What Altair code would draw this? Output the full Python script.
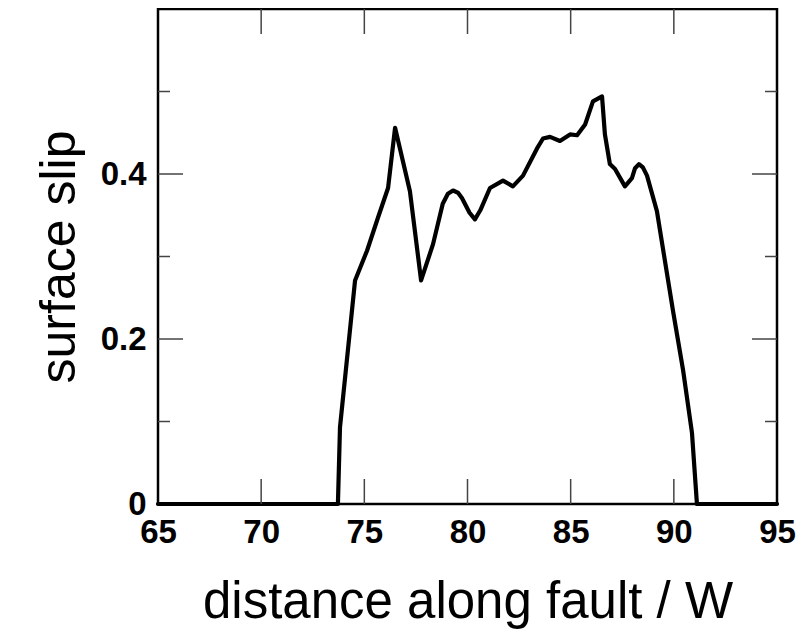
import altair as alt
import pandas as pd

# surface slip profile
dist = [65, 73.72, 73.82, 74.55, 75.13, 75.66, 76.15, 76.49, 77.21, 77.75, 78.33, 78.8,
        79.05, 79.3, 79.55, 79.73, 80.1, 80.36, 80.62, 81.09, 81.72, 82.2, 82.69, 83.37,
        83.66, 84.0, 84.48, 84.97, 85.31, 85.7, 86.08, 86.52, 86.66, 86.9, 87.15, 87.63,
        87.97, 88.12, 88.31, 88.5, 88.7, 89.18, 89.96, 90.45, 90.88, 91.12, 95]
slip = [0, 0, 0.093, 0.271, 0.307, 0.347, 0.383, 0.456, 0.379, 0.271, 0.315, 0.364,
        0.376, 0.38, 0.377, 0.371, 0.353, 0.345, 0.356, 0.383, 0.392, 0.385, 0.398, 0.431,
        0.443, 0.445, 0.44, 0.448, 0.447, 0.46, 0.488, 0.494, 0.448, 0.412, 0.406, 0.385,
        0.395, 0.407, 0.412, 0.408, 0.398, 0.355, 0.234, 0.162, 0.086, 0, 0]

x_labels = [65, 70, 75, 80, 85, 90, 95]
y_labels = [0, 0.2, 0.4]
x_major = [70, 75, 80, 85, 90]
y_major = [0.2, 0.4]
y_minor = [0.1, 0.3, 0.5]

W, H = 619, 495
FONT = "Liberation Sans"

xs = alt.Scale(domain=[65, 95], nice=False, zero=False)
ys = alt.Scale(domain=[0, 0.6], nice=False)

line = alt.Chart(pd.DataFrame({"x": dist, "y": slip})).mark_line(
    color="black", strokeWidth=4.2, strokeJoin="round", strokeCap="round"
).encode(
    x=alt.X("x:Q", scale=xs, title="distance along fault / W",
            axis=alt.Axis(values=x_labels, ticks=False, domain=False, grid=False,
                          labelFlush=False, labelOverlap=False, labelPadding=12,
                          labelFont=FONT, labelFontSize=33, labelFontWeight="bold",
                          labelColor="black", titleFont=FONT, titleFontSize=51,
                          titleFontWeight="normal", titleColor="black", titlePadding=28)),
    y=alt.Y("y:Q", scale=ys, title="surface slip",
            axis=alt.Axis(values=y_labels, ticks=False, domain=False, grid=False,
                          labelFlush=False, labelOverlap=False, labelPadding=12,
                          labelExpr="datum.value == 0 ? '0' : format(datum.value, '.1f')",
                          labelFont=FONT, labelFontSize=33, labelFontWeight="bold",
                          labelColor="black", titleFont=FONT, titleFontSize=50,
                          titleFontWeight="normal", titleColor="black", titlePadding=16)),
)

tick_style = dict(color="#444444", strokeWidth=1.5)
xdf = pd.DataFrame({"x": x_major})
ymaj = pd.DataFrame({"y": y_major})
ymin = pd.DataFrame({"y": y_minor})

xb = alt.Chart(xdf).mark_rule(**tick_style).encode(
    x=alt.X("x:Q", scale=xs), y=alt.value(H), y2=alt.value(H - 25))
xt = alt.Chart(xdf).mark_rule(**tick_style).encode(
    x=alt.X("x:Q", scale=xs), y=alt.value(0), y2=alt.value(25))
yl = alt.Chart(ymaj).mark_rule(**tick_style).encode(
    y=alt.Y("y:Q", scale=ys), x=alt.value(0), x2=alt.value(25))
yr = alt.Chart(ymaj).mark_rule(**tick_style).encode(
    y=alt.Y("y:Q", scale=ys), x=alt.value(W), x2=alt.value(W - 25))
yml = alt.Chart(ymin).mark_rule(**tick_style).encode(
    y=alt.Y("y:Q", scale=ys), x=alt.value(0), x2=alt.value(12))
ymr = alt.Chart(ymin).mark_rule(**tick_style).encode(
    y=alt.Y("y:Q", scale=ys), x=alt.value(W), x2=alt.value(W - 12))

chart = alt.layer(line, xb, xt, yl, yr, yml, ymr).properties(
    width=W, height=H,
    background="white",
    autosize=alt.AutoSizeParams(type="none"),
    padding={"left": 150, "top": 1, "right": 20, "bottom": 132},
).configure_view(stroke="black", strokeWidth=2.5, fill="white")

chart.save("out.html", embed_options={"renderer": "svg", "actions": False})
